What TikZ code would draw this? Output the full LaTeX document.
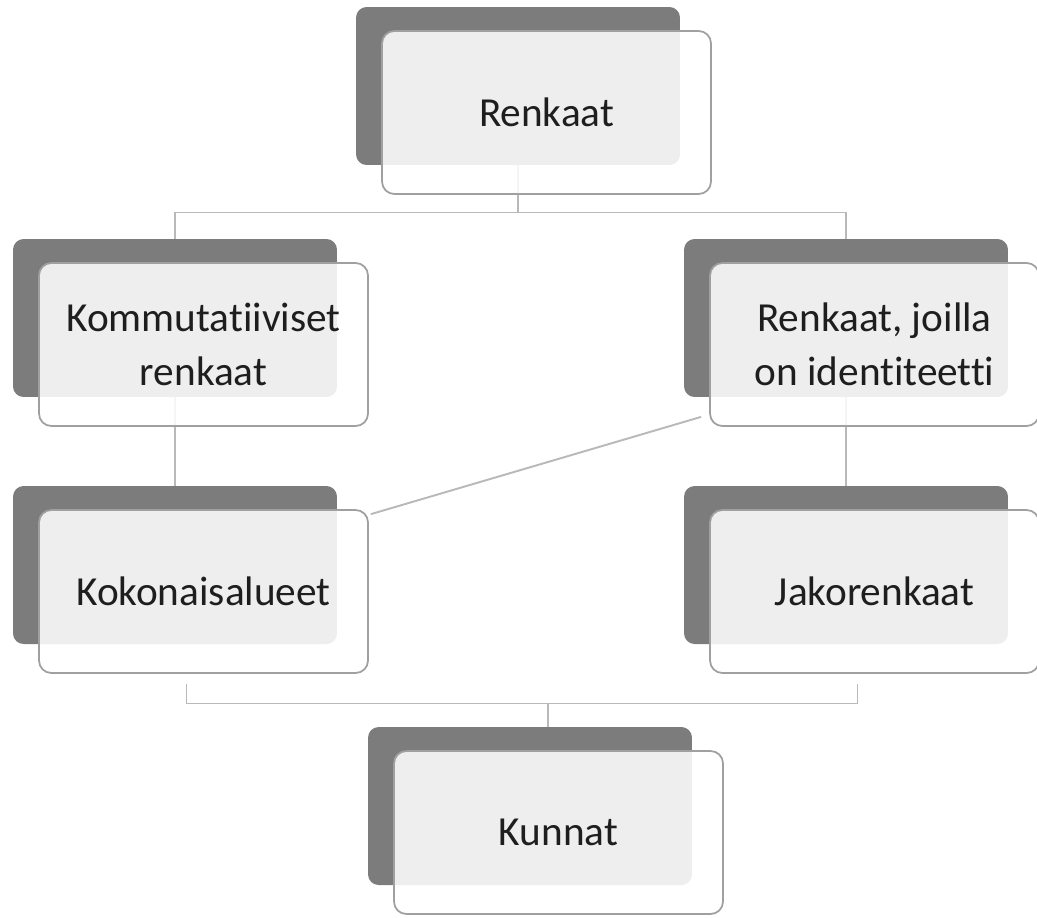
\documentclass[tikz,border=0pt]{standalone}
\usepackage{fontspec}
\setmainfont{Carlito}[RawFeature={-liga}]
\usetikzlibrary{positioning,calc}
\definecolor{boxdark}{RGB}{124,124,124}
\definecolor{boxedge}{RGB}{160,160,160}
\definecolor{linegray}{RGB}{185,185,185}
\definecolor{textdark}{RGB}{30,30,30}
\tikzset{
  backbox/.style={fill=boxdark,rounded corners=6pt,
        minimum width=6.48cm,minimum height=3.16cm},
  frontbox/.style={draw=boxedge,line width=1pt,fill=white,fill opacity=0.87,
        text opacity=1,text=textdark,rounded corners=7pt,
        minimum width=6.58cm,minimum height=3.26cm,align=center,
        font=\fontsize{23.5}{30.5}\selectfont},
  conn/.style={draw=linegray,line width=1.1pt}
}

\begin{document}
\begin{tikzpicture}[x=0.02cm,y=-0.02cm]
  \useasboundingbox (0,0) rectangle (1037,917);
  %% dark back boxes
  \node[backbox] (renkB) at (518,86) {};
  \node[backbox] (kommB) at (175,318) {};
  \node[backbox] (rjB)   at (846,318) {};
  \node[backbox] (kokB)  at (175,565) {};
  \node[backbox] (jakoB) at (846,565) {};
  \node[backbox] (kunnB) at (530,806) {};

  %% connectors
  \coordinate (topbar) at (0,212.5);
  \coordinate (botbar) at (0,703.5);
  \draw[conn] (renkB.south) -- (renkB.south |- topbar);
  \draw[conn] (kommB.north) -- (kommB.north |- topbar)
        -- (rjB.north |- topbar) -- (rjB.north);
  \draw[conn] (kommB.south) -- (kokB.north);
  \draw[conn] (rjB.south) -- (jakoB.north);

  %% front boxes
  \node[frontbox] (renkF) at ($(renkB)+(28.5,26.5)$) {Renkaat};
  \node[frontbox] (kommF) at ($(kommB)+(28.5,26.5)$) {Kommutatiiviset\\renkaat};
  \node[frontbox] (rjF)   at ($(rjB)+(28.5,26.5)$)   {Renkaat, joilla\\on identiteetti};
  \node[frontbox] (kokF)  at ($(kokB)+(28.5,26.5)$)  {Kokonaisalueet};
  \node[frontbox] (jakoF) at ($(jakoB)+(28.5,26.5)$) {Jakorenkaat};
  \node[frontbox] (kunnF) at ($(kunnB)+(28.5,26.5)$) {Kunnat};

  %% lower connectors
  \coordinate (kokfoot)  at ([shift={(-17,10)}]kokF.south);
  \coordinate (jakofoot) at ([shift={(-17,10)}]jakoF.south);
  \coordinate (kunnhead) at ([shift={(18,0)}]kunnB.north);
  \draw[conn] (kokfoot) -- (kokfoot |- botbar)
        -- (jakofoot |- botbar) -- (jakofoot);
  \draw[conn] (kunnhead |- botbar) -- (kunnhead);
  \draw[conn] ([shift={(2,5)}]kokF.north east) -- ([shift={(-8,-10)}]rjF.south west);
\end{tikzpicture}
\end{document}
